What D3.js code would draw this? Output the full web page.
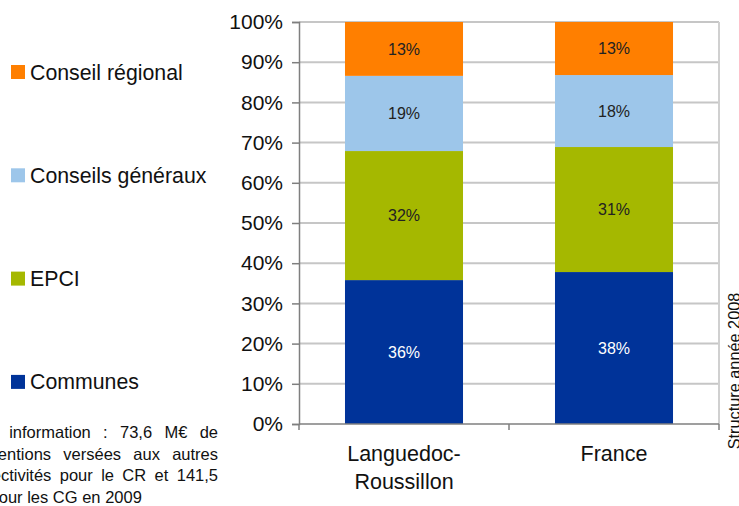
<!DOCTYPE html>
<html>
<head>
<meta charset="utf-8">
<script src="https://cdn.jsdelivr.net/npm/d3@7"></script>
<style>
  body { margin: 0; background: #fff; }
  text { font-family: "Liberation Sans", Arial, sans-serif; }
</style>
</head>
<body>
<svg id="root"></svg>
<script>
var width = 739,
    height = 506;

// data (share of total, %)
var categories = ['Languedoc-Roussillon', 'France'];
var seriesNames = ['Communes', 'EPCI', 'Conseils généraux', 'Conseil régional'];
var communes = [35.8, 37.8];
var epci = [32.1, 31.1];
var conseilsGeneraux = [18.7, 17.9];
var conseilRegional = [13.4, 13.2];
var seriesColors = ['#003399', '#a5b800', '#9dc6ea', '#ff7f00'];
var labelColors = ['#ffffff', '#222222', '#222222', '#222222'];
var yTicks = [0, 10, 20, 30, 40, 50, 60, 70, 80, 90, 100];
var noteLines = [
  ['Pour', 'information', ':', '73,6', 'M€', 'de'],
  ['subventions', 'versées', 'aux', 'autres'],
  ['collectivités', 'pour', 'le', 'CR', 'et', '141,5'],
  ['M€', 'pour', 'les', 'CG', 'en', '2009']
];
var sideNote = 'Structure année 2008';

var seriesValues = [communes, epci, conseilsGeneraux, conseilRegional];

var root = d3.select('#root')
    .attr('width', width)
    .attr('height', height);

var x = d3.scaleBand()
    .domain(categories)
    .range([299, 719])
    .paddingInner(0.438)
    .paddingOuter(0.219);

var y = d3.scaleLinear()
    .domain([0, 100])
    .range([424, 22]);

// gridlines
root.append('g')
  .selectAll('line')
  .data(yTicks.slice(1))
  .enter()
    .append('line')
    .attr('x1', 299)
    .attr('x2', 719)
    .attr('y1', function(d) { return y(d); })
    .attr('y2', function(d) { return y(d); })
    .attr('stroke', '#c6c6c6')
    .attr('stroke-width', 2);

root.append('line')
  .attr('x1', 719).attr('x2', 719)
  .attr('y1', y(100)).attr('y2', y(0))
  .attr('stroke', '#d0d0d0')
  .attr('stroke-width', 2);

// stacked bars
var stacked = categories.map(function(c, i) {
  var base = 0;
  return seriesValues.map(function(vals, s) {
    var seg = { cat: c, s: s, v: vals[i], y0: base, y1: base + vals[i] };
    base += vals[i];
    return seg;
  });
});
var segs = [].concat.apply([], stacked);

root.append('g')
  .selectAll('rect')
  .data(segs)
  .enter()
    .append('rect')
    .attr('x', function(d) { return x(d.cat); })
    .attr('width', x.bandwidth())
    .attr('y', function(d) { return y(d.y1); })
    .attr('height', function(d) { return y(d.y0) - y(d.y1); })
    .attr('fill', function(d) { return seriesColors[d.s]; });

root.append('g')
  .selectAll('text')
  .data(segs)
  .enter()
    .append('text')
    .attr('x', function(d) { return x(d.cat) + x.bandwidth() / 2; })
    .attr('y', function(d) { return (y(d.y0) + y(d.y1)) / 2; })
    .attr('dy', '0.35em')
    .attr('text-anchor', 'middle')
    .attr('font-size', 16)
    .attr('fill', function(d) { return labelColors[d.s]; })
    .text(function(d) { return Math.round(d.v) + '%'; });

// y axis
var yAxis = root.append('g')
  .attr('transform', 'translate(299,0)')
  .call(d3.axisLeft(y)
    .tickValues(yTicks)
    .tickSize(7)
    .tickPadding(9)
    .tickFormat(function(d) { return d + '%'; }));
yAxis.select('.domain').attr('stroke', '#7f7f7f').attr('stroke-width', 1.5);
yAxis.selectAll('.tick line').attr('stroke', '#7f7f7f').attr('stroke-width', 1.5);
yAxis.selectAll('.tick text')
  .attr('font-family', '"Liberation Sans", Arial, sans-serif')
  .attr('font-size', 21)
  .attr('fill', '#111');

// x axis
root.append('line')
  .attr('x1', 299).attr('x2', 719)
  .attr('y1', y(0)).attr('y2', y(0))
  .attr('stroke', '#7f7f7f')
  .attr('stroke-width', 1.5);
root.append('g')
  .selectAll('line')
  .data([299, 509, 719])
  .enter()
    .append('line')
    .attr('x1', function(d) { return d; })
    .attr('x2', function(d) { return d; })
    .attr('y1', y(0))
    .attr('y2', y(0) + 6)
    .attr('stroke', '#7f7f7f')
    .attr('stroke-width', 1.5);

var catLabels = root.append('g')
  .selectAll('text')
  .data(categories)
  .enter()
    .append('text')
    .attr('text-anchor', 'middle')
    .attr('font-size', 21.5)
    .attr('fill', '#111');
catLabels.each(function(c) {
  var parts = c.indexOf('-') > -1 ? [c.slice(0, c.indexOf('-') + 1), c.slice(c.indexOf('-') + 1)] : [c];
  d3.select(this).selectAll('tspan')
    .data(parts)
    .enter()
      .append('tspan')
      .attr('x', x(c) + x.bandwidth() / 2)
      .attr('y', function(d, i) { return 461 + i * 28; })
      .text(function(d) { return d; });
});

// legend (top entry is the top of the stack)
var legend = root.append('g')
  .selectAll('g')
  .data(seriesNames.slice().reverse())
  .enter()
    .append('g')
    .attr('transform', function(d, i) { return 'translate(11,' + (72 + i * 103.3) + ')'; });
legend.append('rect')
  .attr('x', 0)
  .attr('y', -7)
  .attr('width', 14)
  .attr('height', 14)
  .attr('fill', function(d) { return seriesColors[seriesNames.indexOf(d)]; });
legend.append('text')
  .attr('x', 19)
  .attr('y', 7.5)
  .attr('font-size', 21.3)
  .attr('fill', '#111')
  .text(function(d) { return d; });

// footnote, justified, partly cut at the left edge
var noteLeft = [-38, -37, -33, -38];
var noteBase = [438, 460, 481, 503];
noteLines.forEach(function(words, li) {
  var g = root.append('g');
  var ts = g.selectAll('text')
    .data(words)
    .enter()
      .append('text')
      .attr('y', noteBase[li])
      .attr('font-size', 16.5)
      .attr('fill', '#111')
      .text(function(d) { return d; });
  var widths = [];
  ts.each(function() { widths.push(this.getComputedTextLength()); });
  var total = d3.sum(widths);
  var gap = li < noteLines.length - 1 ? (218 - noteLeft[li] - total) / (words.length - 1) : 4.6;
  var pos = noteLeft[li];
  ts.attr('x', function(d, i) {
    var p = pos;
    pos += widths[i] + gap;
    return p;
  });
});

root.append('text')
  .attr('transform', 'translate(740,371) rotate(-90)')
  .attr('text-anchor', 'middle')
  .attr('font-size', 16.3)
  .attr('fill', '#111')
  .text(sideNote);
</script>
</body>
</html>
